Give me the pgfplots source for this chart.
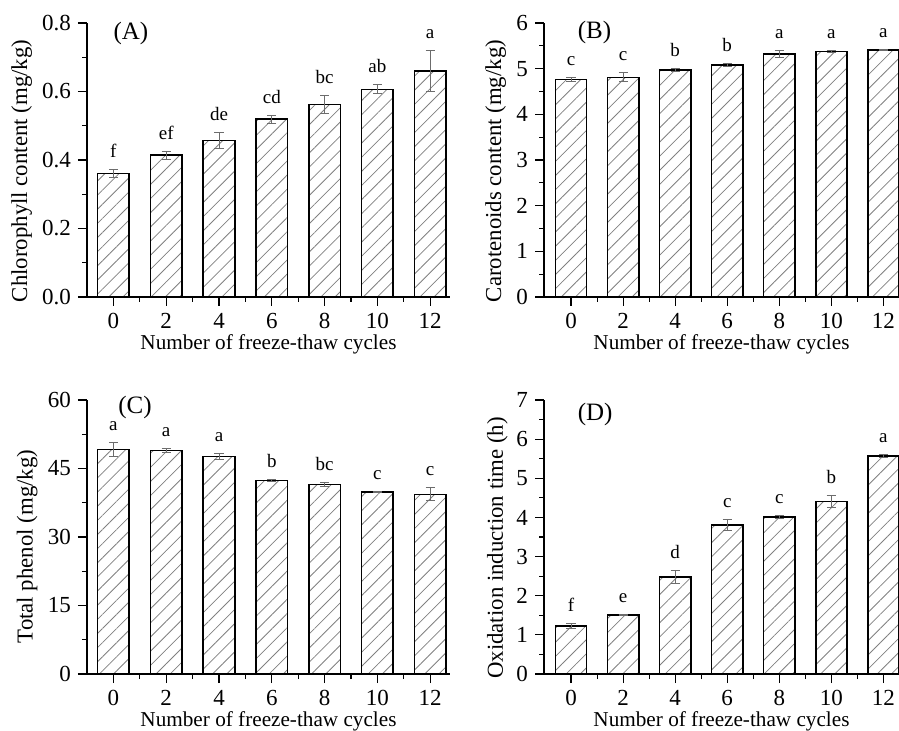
\documentclass[border=0pt]{standalone}
\usepackage{fontspec}
\setmainfont{Liberation Serif}
\usepackage{pgfplots}
\pgfplotsset{compat=1.18}
\usepackage{pgfplotstable}
\usetikzlibrary{patterns.meta}

% x = freeze-thaw cycles, y = mean, e = sd, l = significance letter
\pgfplotstableread{
x y e l
0 0.361 0.011 f
2 0.414 0.012 ef
4 0.457 0.023 de
6 0.519 0.012 cd
8 0.562 0.026 bc
10 0.606 0.013 ab
12 0.660 0.061 a
}\dataA
\pgfplotstableread{
x y e l
0 4.76 0.04 c
2 4.81 0.10 c
4 4.97 0.04 b
6 5.08 0.04 b
8 5.32 0.08 a
10 5.38 0.02 a
12 5.41 0.01 a
}\dataB
\pgfplotstableread{
x y e l
0 49.2 1.6 a
2 48.9 0.45 a
4 47.6 0.65 a
6 42.4 0.3 b
8 41.5 0.5 bc
10 39.9 0.1 c
12 39.35 1.4 c
}\dataC
\pgfplotstableread{
x y e l
0 1.22 0.06 f
2 1.50 0.01 e
4 2.48 0.17 d
6 3.81 0.14 c
8 4.01 0.05 c
10 4.41 0.15 b
12 5.57 0.05 a
}\dataD

\tikzset{tag/.style={anchor=base west, inner sep=0pt, font=\fontsize{12.5}{14}\selectfont}}

\pgfplotsset{
  panel/.style={
    scale only axis, height=137pt,
    ymin=0,
    axis x line*=bottom, axis y line*=left,
    axis line style={-, line width=0.7pt},
    tick align=outside, major tick length=4.5pt, minor tick length=2.5pt,
    every tick/.style={line width=0.6pt, black},
    xtick={0,2,...,12}, minor x tick num=1, minor y tick num=1,
    /pgf/number format/assume math mode=true,
    tick label style={font=\fontsize{11.5}{13}\selectfont},
    xlabel={Number of freeze-thaw cycles},
    xlabel style={font=\fontsize{10.6}{12}\selectfont, anchor=base, inner sep=0pt},
    ylabel style={font=\fontsize{11.4}{13}\selectfont, anchor=center, inner sep=0pt},
    clip=false,
  },
  hbar/.style={ybar, bar width=1.2, draw=black, line width=0.8pt,
    pattern={Lines[angle=45,distance=5pt,line width=0.4pt]}, pattern color=gray,
    error bars/.cd, y dir=both, y explicit,
    error bar style={gray!85!black, line width=0.5pt},
    error mark options={rotate=90, mark size=2.3pt, gray!85!black, line width=0.5pt}},
  letters/.style={draw=none, mark=none, nodes near coords, point meta=explicit symbolic,
    nodes near coords style={anchor=base, inner sep=0pt, yshift=6pt, font=\fontsize{9.5}{11}\selectfont}},
}

\begin{document}
\begin{tikzpicture}
\begin{axis}[panel, at={(43.5pt,-148.5pt)}, anchor=south west,
  width=181.5pt, xmin=-1, xmax=12.75, ymax=0.8, ytick={0,0.2,...,0.8},
  yticklabel style={/pgf/number format/fixed, /pgf/number format/fixed zerofill, /pgf/number format/precision=1},
  xlabel style={at={(axis description cs:0.5,-0.193)}},
  ylabel={Chlorophyll content (mg/kg)},
  ylabel style={at={(axis description cs:-0.18,0.46)}}]
\addplot[hbar] table[x=x, y=y, y error=e] {\dataA};
\addplot[letters] table[x=x, y expr=\thisrow{y}+\thisrow{e}, meta=l] {\dataA};
\node[tag] at (rel axis cs:0.072,0.938) {(A)};
\end{axis}

\begin{axis}[panel, at={(272pt,-148.5pt)}, anchor=south west,
  width=177.5pt, xmin=-1.04, xmax=12.6, ymax=6, ytick={0,1,...,6},
  xlabel style={at={(axis description cs:0.5,-0.193)}},
  ylabel={Carotenoids content (mg/kg)},
  ylabel style={at={(axis description cs:-0.136,0.46)}}]
\addplot[hbar] table[x=x, y=y, y error=e] {\dataB};
\addplot[letters] table[x=x, y expr=\thisrow{y}+\thisrow{e}, meta=l] {\dataB};
\node[tag] at (rel axis cs:0.094,0.945) {(B)};
\end{axis}

\begin{axis}[panel, at={(43.5pt,-337pt)}, anchor=south west,
  width=181.5pt, xmin=-1, xmax=12.75, ymax=60, ytick={0,15,...,60},
  xlabel style={at={(axis description cs:0.5,-0.19)}},
  ylabel={Total phenol (mg/kg)},
  ylabel style={at={(axis description cs:-0.165,0.465)}}]
\addplot[hbar] table[x=x, y=y, y error=e] {\dataC};
\addplot[letters] table[x=x, y expr=\thisrow{y}+\thisrow{e}, meta=l] {\dataC};
\node[tag] at (rel axis cs:0.085,0.949) {(C)};
\end{axis}

\begin{axis}[panel, at={(272pt,-337pt)}, anchor=south west,
  width=177.5pt, xmin=-1.04, xmax=12.6, ymax=7, ytick={0,1,...,7},
  xlabel style={at={(axis description cs:0.5,-0.19)}},
  ylabel={Oxidation induction time (h)},
  ylabel style={at={(axis description cs:-0.131,0.46)}}]
\addplot[hbar] table[x=x, y=y, y error=e] {\dataD};
\addplot[letters] table[x=x, y expr=\thisrow{y}+\thisrow{e}, meta=l] {\dataD};
\node[tag] at (rel axis cs:0.094,0.927) {(D)};
\end{axis}

\pgfresetboundingbox
\path[use as bounding box] (0,0) rectangle (449.5pt,-365.5pt);
\end{tikzpicture}
\end{document}
